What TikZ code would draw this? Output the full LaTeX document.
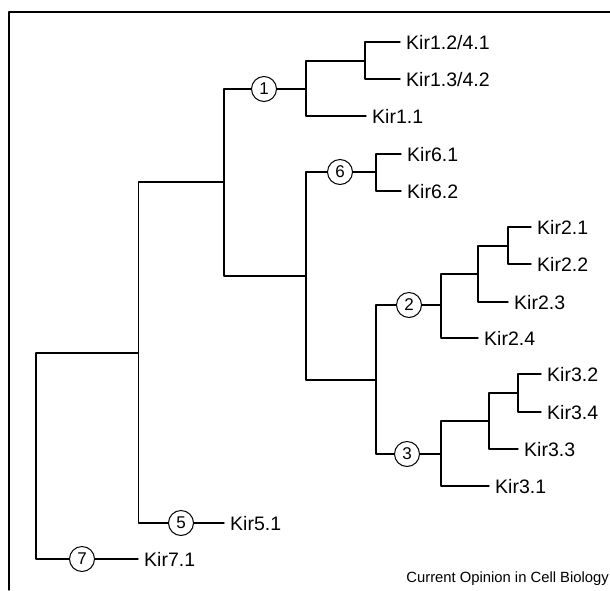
\documentclass[tikz,border=0pt]{standalone}
\usepackage{fontspec}
\setmainfont{Liberation Sans}
\usetikzlibrary{shapes,arrows}

\begin{document}
\begin{tikzpicture}
    [line cap=round,line join=round,x=1pt,y=-1pt,
     branch/.style={line width=1.4pt},
     num/.style={circle,draw,line width=1pt,minimum size=25pt,inner sep=0pt,font=\fontsize{17}{17}\selectfont},
     leaf/.style={anchor=west,inner xsep=6pt,inner ysep=0pt,text height=14pt,text depth=0pt,font=\fontsize{19.5}{19.5}\selectfont}]
\useasboundingbox (0,0) rectangle (610,590);
%frame
\draw[line width=1.4pt] (610,12) -- (9,12) -- (9,590);
%branch points
\coordinate (r) at (36,353);
\coordinate (a) at (138.5,353);
\coordinate (b) at (224,182);
\coordinate (c) at (306,276);
\coordinate (d1) at (306,89);
\coordinate (e1) at (365,61);
\coordinate (g6) at (376,172);
\coordinate (f) at (376,380);
\coordinate (h2) at (441,305);
\coordinate (i2) at (478,274);
\coordinate (j2) at (508,246);
\coordinate (h3) at (441,454);
\coordinate (i3) at (489,421);
\coordinate (j3) at (518,393);
%circled numbers
\node[num] (n1) at (264,89) {1};
\node[num] (n6) at (340,172) {6};
\node[num] (n2) at (409,305) {2};
\node[num] (n3) at (407,454) {3};
\node[num] (n5) at (181,523) {5};
\node[num] (n7) at (82,559) {7};
%leaves
\node[leaf] (kir12) at (400,42) {Kir1.2/4.1};
\node[leaf] (kir13) at (400,79) {Kir1.3/4.2};
\node[leaf] (kir11) at (366,116) {Kir1.1};
\node[leaf] (kir61) at (401,154) {Kir6.1};
\node[leaf] (kir62) at (401,191) {Kir6.2};
\node[leaf] (kir21) at (531,227) {Kir2.1};
\node[leaf] (kir22) at (531,264) {Kir2.2};
\node[leaf] (kir23) at (508,302) {Kir2.3};
\node[leaf] (kir24) at (478,338) {Kir2.4};
\node[leaf] (kir32) at (541,374) {Kir3.2};
\node[leaf] (kir34) at (541,412) {Kir3.4};
\node[leaf] (kir33) at (518,449) {Kir3.3};
\node[leaf] (kir31) at (489,486) {Kir3.1};
\node[leaf] (kir51) at (224,523) {Kir5.1};
\node[leaf] (kir71) at (138,559) {Kir7.1};
%caption
\node[anchor=base east,inner sep=0pt,font=\fontsize{14.8}{14.8}\selectfont] (cap) at (609,582) {Current Opinion in Cell Biology};
%tree
\draw[branch] (r) -- (a);
\draw[branch] (r) |- (n7);
\draw[branch] (n7) -- (kir71);
\draw[branch] (a) |- (n5);
\draw[branch] (n5) -- (kir51);
\draw[branch] (a) |- (b);
\draw[branch] (b) |- (n1);
\draw[branch] (b) |- (c);
%kir1 group
\draw[branch] (n1) -- (d1);
\draw[branch] (d1) |- (e1);
\draw[branch] (d1) |- (kir11);
\draw[branch] (e1) |- (kir12);
\draw[branch] (e1) |- (kir13);
%kir6 group
\draw[branch] (c) |- (n6);
\draw[branch] (n6) -- (g6);
\draw[branch] (g6) |- (kir61);
\draw[branch] (g6) |- (kir62);
\draw[branch] (c) |- (f);
%kir2 group
\draw[branch] (f) |- (n2);
\draw[branch] (n2) -- (h2);
\draw[branch] (h2) |- (i2);
\draw[branch] (h2) |- (kir24);
\draw[branch] (i2) |- (j2);
\draw[branch] (i2) |- (kir23);
\draw[branch] (j2) |- (kir21);
\draw[branch] (j2) |- (kir22);
%kir3 group
\draw[branch] (f) |- (n3);
\draw[branch] (n3) -- (h3);
\draw[branch] (h3) |- (i3);
\draw[branch] (h3) |- (kir31);
\draw[branch] (i3) |- (j3);
\draw[branch] (i3) |- (kir33);
\draw[branch] (j3) |- (kir32);
\draw[branch] (j3) |- (kir34);
\end{tikzpicture}
\end{document}
